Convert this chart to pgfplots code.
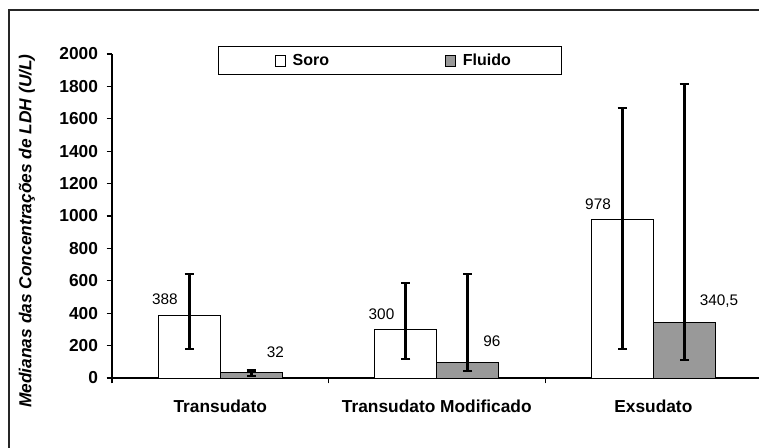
\documentclass[border=0pt]{standalone}
\usepackage{fontspec}
\setmainfont{Liberation Sans}
\usepackage{pgfplots}
\usepackage{pgfplotstable}
\pgfplotsset{compat=1.18}
\definecolor{fgray}{RGB}{153,153,153}

\pgfplotstableread{
x y ep em lab
0 388 254 209 388
1 300 286 183 300
2 978 689 799 978
}\soro
\pgfplotstableread{
x y ep em lab
0 32 13 20 32
1 96 546 53 96
2 340.5 1474.5 229.5 340,5
}\fluido

\begin{document}
\begin{tikzpicture}
\begin{axis}[
  scale only axis, width=485.25pt, height=243pt,
  xmin=-0.5, xmax=2.488, ymin=0, ymax=2000,
  ybar=0pt, bar width=46.5pt,
  axis x line*=bottom, axis y line*=left,
  axis line style={black, line width=0.8pt},
  tick align=outside,
  major tick length=4pt,
  tick style={black, line width=0.8pt},
  ytick={0,200,...,2000},
  xtick={-0.5,0.5,1.5}, xticklabels={},
  extra x ticks={0,1,2},
  extra x tick labels={Transudato,Transudato Modificado,Exsudato},
  extra x tick style={major tick length=0pt, xticklabel style={yshift=-13pt}},
  ticklabel style={font=\bfseries\fontsize{13}{15}\selectfont},
  yticklabel style={xshift=-3pt},
  /pgf/number format/assume math mode=true,
  /pgf/number format/set thousands separator={},
  ylabel={\bfseries\itshape Medianas das Concentrações de LDH (U/L)},
  ylabel style={at={(axis description cs:-0.1314,0.4537)}, anchor=center, font=\fontsize{13}{15}\selectfont},
  legend columns=2,
  legend style={at={(axis description cs:0.1638,1.0247)}, anchor=north west,
    draw=black, line width=0.8pt, inner xsep=36pt, inner ysep=3.5pt,
    font=\bfseries\fontsize{12}{14}\selectfont,
    /tikz/every even column/.append style={column sep=78.7pt}},
  point meta=explicit symbolic,
  clip=false,
]
\addplot[fill=white, draw=black, line width=0.6pt,
  legend image code/.code={\draw[fill=white, draw=black, line width=0.5pt] (0pt,-4pt) rectangle (8pt,4pt); \path (11pt,0pt) (-6pt,0pt);},
  nodes near coords,
  every node near coord/.append style={anchor=south east, xshift=-5pt, yshift=4pt, font=\fontsize{11.5}{13}\selectfont},
  error bars/.cd, y dir=both, y explicit,
  error bar style={black, line width=2.2pt},
  error mark options={black, line width=2pt, mark size=3.5pt, rotate=90}]
  table[x=x, y=y, y error plus=ep, y error minus=em, meta=lab] {\soro};
\addplot[fill=fgray, draw=black, line width=0.6pt,
  legend image code/.code={\draw[fill=fgray, draw=black, line width=0.5pt] (0pt,-4pt) rectangle (8pt,4pt); \path (11pt,0pt) (-6pt,0pt);},
  nodes near coords,
  every node near coord/.append style={anchor=south west, xshift=8pt, yshift=8pt, font=\fontsize{11.5}{13}\selectfont},
  error bars/.cd, y dir=both, y explicit,
  error bar style={black, line width=2.2pt},
  error mark options={black, line width=2pt, mark size=3.5pt, rotate=90}]
  table[x=x, y=y, y error plus=ep, y error minus=em, meta=lab] {\fluido};
\legend{Soro, Fluido}
\end{axis}
\draw[line width=1.5pt, black!85] (-77.25pt,-60pt) -- (-77.25pt,276pt) -- (490pt,276pt);
\pgfresetboundingbox
\useasboundingbox (-84pt,-52.5pt) rectangle (485.25pt,283.5pt);
\end{tikzpicture}
\end{document}
